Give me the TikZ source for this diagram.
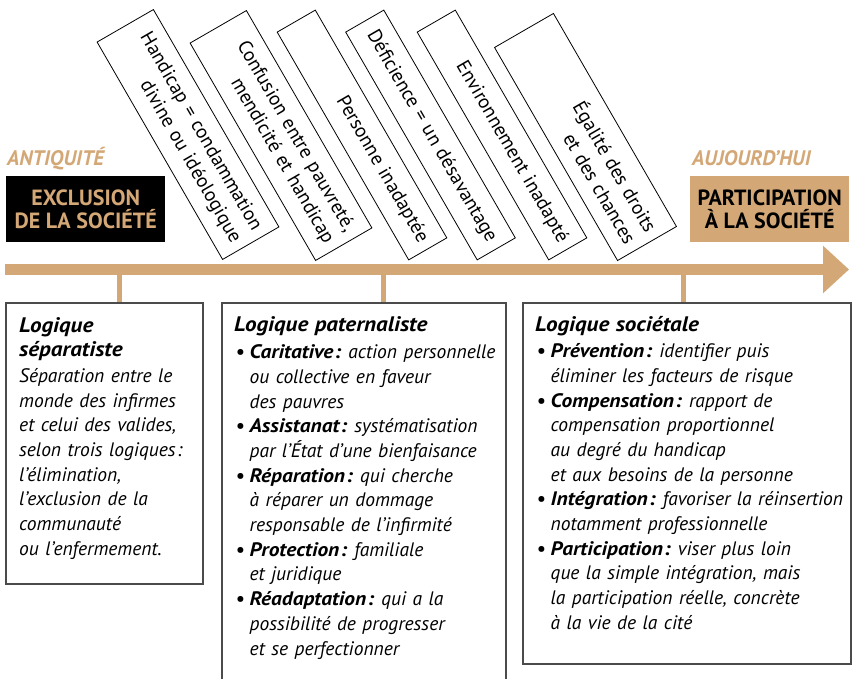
\documentclass[tikz,border=0pt]{standalone}
\usepackage{fontspec}
\setmainfont{PT Sans}
\newfontfamily\labfont{PT Sans}
\newfontfamily\bodyfont{PT Sans}
\newfontfamily\bfam[FakeStretch=1.1]{PT Sans}
\newfontfamily\rotfont{PT Sans}
\usetikzlibrary{arrows.meta}
\definecolor{tanc}{RGB}{212,168,118}
\definecolor{boxgray}{RGB}{75,75,75}
\setlength{\parindent}{0pt}
\newcommand{\bul}{\makebox[15.5pt][l]{\hspace{1.5pt}\textbf{•}}}
\newcommand{\ind}{\hspace*{15.5pt}}
\newcommand{\kw}[1]{{\bfam\bfseries\itshape #1\hspace{1pt}:}\hspace{-2.5pt}}
\newcommand{\ttl}[1]{{\bfam\bfseries\itshape\fontsize{21}{24}\selectfont #1}}
\tikzset{
  rotbox/.style={draw, line width=0.8pt, fill=white, rotate=-60, inner sep=0pt, align=right,
    font=\rotfont\fontsize{19.5}{24}\selectfont},
  logbox/.style={draw=boxgray, line width=1.3pt, inner sep=0pt, anchor=north west},
  txt/.style={inner sep=0pt, anchor=base west, align=left},
  era/.style={inner sep=0pt, anchor=base west, text=tanc, font=\labfont\fontsize{21}{24}\selectfont\bfseries\itshape},
  stage/.style={inner sep=0pt, align=center, minimum width=159pt, minimum height=66pt,
    font=\labfont\fontsize{22}{23}\selectfont\bfseries},
  stem/.style={draw=tanc, line width=5pt}
}
\begin{document}
\begin{tikzpicture}[x=1pt,y=-1pt]
\clip (0,0) rectangle (852,679);
\fill[white] (0,0) rectangle (852,679);

% timeline arrow
\coordinate (tl0) at (5,269.5);
\coordinate (tl1) at (849,269.5);
\draw[tanc, line width=11pt, -{Triangle[length=26pt,width=46pt]}] (tl0) -- (tl1);

% era labels
\node[era] (antiq) at (7,166) {ANTIQUITÉ};
\node[era] (auj) at (692,166) {AUJOURD’HUI};
\node[stage, fill=black, text=tanc, anchor=north west] (excl) at (6,176) {EXCLUSION\\DE LA SOCIÉTÉ};
\node[stage, fill=tanc, text=black, anchor=north west] (partic) at (690,176) {PARTICIPATION\\À LA SOCIÉTÉ};

% rotated boxes
\node[rotbox, minimum width=251pt, minimum height=65pt, text width=233pt] (r1) at (188,134.5) {Handicap = condammation\\divine ou idéologique};
\node[rotbox, minimum width=251pt, minimum height=65pt, text width=233pt] (r2) at (281,135.5) {Confusion entre pauvreté,\\mendicité et handicap};
\node[rotbox, minimum width=263pt, minimum height=44pt, text width=245pt] (r3) at (362,135) {Personne inadaptée};
\node[rotbox, minimum width=263pt, minimum height=44pt, text width=245pt] (r4) at (430.5,135) {Déficience = un désavantage};
\node[rotbox, minimum width=263pt, minimum height=44pt, text width=245pt] (r5) at (502,135) {Environnement inadapté};
\node[rotbox, minimum width=246pt, minimum height=68pt, text width=228pt] (r6) at (585.5,137) {Égalité des droits\\et des chances};

% logic boxes
\coordinate (s1) at (119,272);
\coordinate (s2) at (383,272);
\coordinate (s3) at (683,272);
\node[logbox, minimum width=196pt, minimum height=280pt] (b1) at (6,303) {};
\node[logbox, minimum width=283pt, minimum height=390pt] (b2) at (222,303) {};
\node[logbox, minimum width=327pt, minimum height=360pt] (b3) at (523,303) {};
\draw[stem] (s1) -- (s1 |- b1.north);
\draw[stem] (s2) -- (s2 |- b2.north);
\draw[stem] (s3) -- (s3 |- b3.north);
\draw[boxgray, line width=1.3pt] (b1.north west) rectangle (b1.south east);
\draw[boxgray, line width=1.3pt] (b2.north west) rectangle (b2.south east);
\draw[boxgray, line width=1.3pt] (b3.north west) rectangle (b3.south east);

\node[txt, text width=182pt, font=\bodyfont\fontsize{19.5}{24.7}\selectfont\itshape] (t1) at (19,333) {%
\ttl{Logique}\\[-1pt]
\ttl{séparatiste}\\[1pt]
Séparation entre le\\
monde des infirmes\\
et celui des valides,\\
selon trois logiques\hspace{1.5pt}:\\
l’élimination,\\
l’exclusion de la\\
communauté\\
ou l’enfermement.};

\node[txt, text width=275pt, font=\bodyfont\fontsize{19.5}{24.7}\selectfont\itshape] (t2) at (234,331) {%
\ttl{Logique paternaliste}\\[3pt]
\bul\kw{Caritative} action personnelle\\
\ind ou collective en faveur\\
\ind des pauvres\\
\bul\kw{Assistanat} systématisation\\
\ind par l’État d’une bienfaisance\\
\bul\kw{Réparation} qui cherche\\
\ind à réparer un dommage\\
\ind responsable de l’infirmité\\
\bul\kw{Protection} familiale\\
\ind et juridique\\
\bul\kw{Réadaptation} qui a la\\
\ind possibilité de progresser\\
\ind et se perfectionner};

\node[txt, text width=315pt, font=\bodyfont\fontsize{19.5}{24.7}\selectfont\itshape] (t3) at (535,331) {%
\ttl{Logique sociétale}\\[2pt]
\bul\kw{Prévention} identifier puis\\
\ind éliminer les facteurs de risque\\
\bul\kw{Compensation} rapport de\\
\ind compensation proportionnel\\
\ind au degré du handicap\\
\ind et aux besoins de la personne\\
\bul\kw{Intégration} favoriser la réinsertion\\
\ind notamment professionnelle\\
\bul\kw{Participation} viser plus loin\\
\ind que la simple intégration, mais\\
\ind la participation réelle, concrète\\
\ind à la vie de la cité};
\end{tikzpicture}
\end{document}
